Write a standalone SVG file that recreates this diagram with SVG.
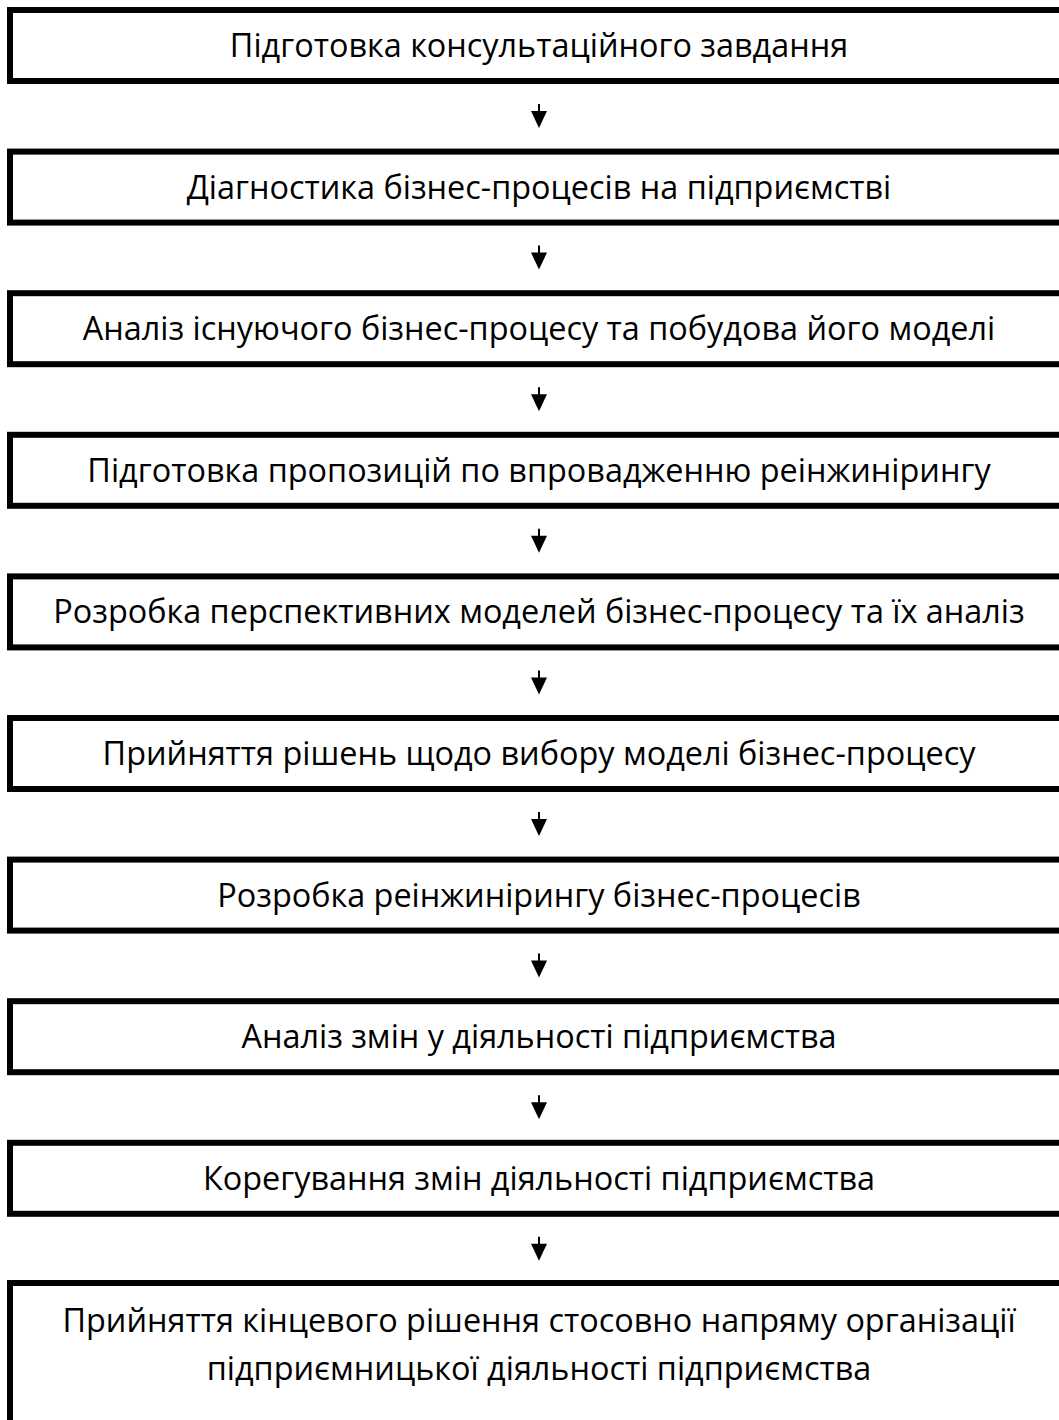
<svg xmlns="http://www.w3.org/2000/svg" width="1059" height="1420" viewBox="0 0 1059 1420">
<style>
.box{fill:#fff;stroke:#000;stroke-width:6}
.t{font-family:"Open Sans","Noto Sans",sans-serif;font-size:32.4px;fill:#000;text-anchor:middle}
.c{stroke:#000;stroke-width:2;fill:none}
.h{fill:#000}
</style>
<defs>
<g id="arr"><line class="c" x1="539" y1="0" x2="539" y2="10"/><polygon class="h" points="531,7 547,7 539,24"/></g>
</defs>
<rect width="1059" height="1420" fill="#fff"/>
<g id="n1"><rect class="box" x="10" y="10" width="1058" height="71"/><text class="t" x="539" y="57">Підготовка консультаційного завдання</text></g>
<g id="n2"><rect class="box" x="10" y="151.6" width="1058" height="71"/><text class="t" x="539" y="198.6">Діагностика бізнес-процесів на підприємстві</text></g>
<g id="n3"><rect class="box" x="10" y="293.2" width="1058" height="71"/><text class="t" x="539" y="340.2">Аналіз існуючого бізнес-процесу та побудова його моделі</text></g>
<g id="n4"><rect class="box" x="10" y="434.8" width="1058" height="71"/><text class="t" x="539" y="481.8">Підготовка пропозицій по впровадженню реінжинірингу</text></g>
<g id="n5"><rect class="box" x="10" y="576.4" width="1058" height="71"/><text class="t" x="539" y="623.4">Розробка перспективних моделей бізнес-процесу та їх аналіз</text></g>
<g id="n6"><rect class="box" x="10" y="718" width="1058" height="71"/><text class="t" x="539" y="765">Прийняття рішень щодо вибору моделі бізнес-процесу</text></g>
<g id="n7"><rect class="box" x="10" y="859.6" width="1058" height="71"/><text class="t" x="539" y="906.6">Розробка реінжинірингу бізнес-процесів</text></g>
<g id="n8"><rect class="box" x="10" y="1001.2" width="1058" height="71"/><text class="t" x="539" y="1048.2">Аналіз змін у діяльності підприємства</text></g>
<g id="n9"><rect class="box" x="10" y="1142.8" width="1058" height="71"/><text class="t" x="539" y="1189.8">Корегування змін діяльності підприємства</text></g>
<g id="n10"><rect class="box" x="10" y="1283" width="1058" height="200"/><text class="t" x="539" y="1332">Прийняття кінцевого рішення стосовно напряму організації</text><text class="t" x="539" y="1380">підприємницької діяльності підприємства</text></g>
<g id="connectors">
<use href="#arr" y="104"/>
<use href="#arr" y="245.6"/>
<use href="#arr" y="387.2"/>
<use href="#arr" y="528.8"/>
<use href="#arr" y="670.4"/>
<use href="#arr" y="812"/>
<use href="#arr" y="953.6"/>
<use href="#arr" y="1095.2"/>
<use href="#arr" y="1236.8"/>
</g>
</svg>
